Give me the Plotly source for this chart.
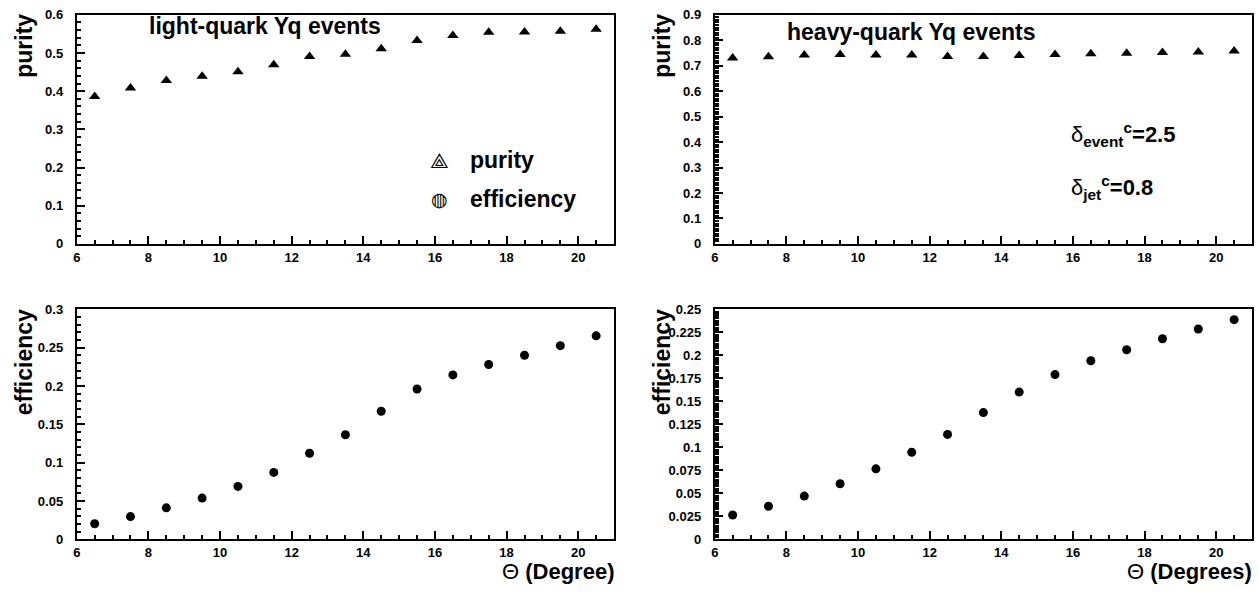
import plotly.graph_objects as go

# ---------------- data ----------------
theta = [6.5, 7.5, 8.5, 9.5, 10.5, 11.5, 12.5, 13.5, 14.5, 15.5, 16.5, 17.5, 18.5, 19.5, 20.5]

purity_light = [0.386, 0.408, 0.428, 0.439, 0.451, 0.469, 0.491, 0.497, 0.511, 0.533,
                0.546, 0.554, 0.555, 0.557, 0.562]
purity_heavy = [0.730, 0.735, 0.742, 0.744, 0.742, 0.742, 0.736, 0.736, 0.740, 0.744,
                0.747, 0.749, 0.752, 0.754, 0.758]
eff_light = [0.0203, 0.0297, 0.0411, 0.0538, 0.069, 0.0873, 0.1123, 0.1364, 0.167, 0.196,
             0.2144, 0.228, 0.240, 0.2525, 0.2653]
eff_heavy = [0.0265, 0.036, 0.047, 0.0604, 0.0766, 0.0946, 0.114, 0.1377, 0.160, 0.179,
             0.194, 0.206, 0.218, 0.2285, 0.2387]

x_ticks = [6, 8, 10, 12, 14, 16, 18, 20]
x_ticktext = ["6", "8", "10", "12", "14", "16", "18", "20"]
y1_ticks = [0, 0.1, 0.2, 0.3, 0.4, 0.5, 0.6]
y1_text = ["0", "0.1", "0.2", "0.3", "0.4", "0.5", "0.6"]
y2_ticks = [0, 0.1, 0.2, 0.3, 0.4, 0.5, 0.6, 0.7, 0.8, 0.9]
y2_text = ["0", "0.1", "0.2", "0.3", "0.4", "0.5", "0.6", "0.7", "0.8", "0.9"]
y3_ticks = [0, 0.05, 0.1, 0.15, 0.2, 0.25, 0.3]
y3_text = ["0", "0.05", "0.1", "0.15", "0.2", "0.25", "0.3"]
y4_ticks = [0, 0.025, 0.05, 0.075, 0.1, 0.125, 0.15, 0.175, 0.2, 0.225, 0.25]
y4_text = ["0", "0.025", "0.05", "0.075", "0.1", "0.125", "0.15", "0.175", "0.2", "0.225", "0.25"]

# ---------------- layout helpers ----------------
W, H = 1259, 600
FONT = "Liberation Sans, Arial, Helvetica, sans-serif"

def px_x(p):
    return p / W

def px_y(p):
    return 1 - p / H

xdom_left = [px_x(73), px_x(612)]
xdom_right = [px_x(713), px_x(1252)]
ydom_top = [px_y(243), px_y(8)]
ydom_bot = [px_y(546), px_y(310)]

fig = go.Figure()

tri = dict(symbol="triangle-up", size=10, color="black")
dot = dict(symbol="circle", size=9, color="black")

fig.add_trace(go.Scatter(x=theta, y=purity_light, mode="markers", marker=tri,
                         xaxis="x", yaxis="y", showlegend=False))
fig.add_trace(go.Scatter(x=theta, y=purity_heavy, mode="markers", marker=tri,
                         xaxis="x2", yaxis="y2", showlegend=False))
fig.add_trace(go.Scatter(x=theta, y=eff_light, mode="markers", marker=dot,
                         xaxis="x3", yaxis="y3", showlegend=False))
fig.add_trace(go.Scatter(x=theta, y=eff_heavy, mode="markers", marker=dot,
                         xaxis="x4", yaxis="y4", showlegend=False))

tickfont = dict(family=FONT, size=13, color="black", weight="bold")

def xaxis(dom, anchor):
    return dict(domain=dom, anchor=anchor, range=[6, 21], showgrid=False, zeroline=False,
                showline=True, linecolor="black", linewidth=2, mirror=True,
                ticks="inside", ticklen=8, tickwidth=2, tickcolor="black",
                tickmode="array", tickvals=x_ticks, ticktext=x_ticktext,
                tickfont=tickfont, ticklabelstandoff=0,
                minor=dict(ticks="inside", dtick=0.5, tick0=6, ticklen=4, tickwidth=1.5,
                           tickcolor="black", showgrid=False))

def yaxis(dom, anchor, top, vals, text, mdt):
    return dict(domain=dom, anchor=anchor, range=[0, top], showgrid=False, zeroline=False,
                showline=True, linecolor="black", linewidth=2, mirror=True,
                ticks="inside", ticklen=8, tickwidth=2, tickcolor="black",
                tickmode="array", tickvals=vals, ticktext=text,
                tickfont=tickfont, ticklabelstandoff=9,
                minor=dict(ticks="inside", dtick=mdt, tick0=0, ticklen=4, tickwidth=1.5,
                           tickcolor="black", showgrid=False))

fig.update_layout(
    width=W, height=H,
    margin=dict(l=0, r=0, t=0, b=0),
    paper_bgcolor="white", plot_bgcolor="white",
    showlegend=False,
    xaxis=xaxis(xdom_left, "y"),
    yaxis=yaxis(ydom_top, "x", 0.6, y1_ticks, y1_text, 0.02),
    xaxis2=xaxis(xdom_right, "y2"),
    yaxis2=yaxis(ydom_top, "x2", 0.9, y2_ticks, y2_text, 0.01),
    xaxis3=xaxis(xdom_left, "y3"),
    yaxis3=yaxis(ydom_bot, "x3", 0.3, y3_ticks, y3_text, 0.01),
    xaxis4=xaxis(xdom_right, "y4"),
    yaxis4=yaxis(ydom_bot, "x4", 0.25, y4_ticks, y4_text, 0.0025),
)

bold = lambda s: dict(family=FONT, size=s, color="black", weight="bold")
normal = lambda s: dict(family=FONT, size=s, color="black")

ann = []
# panel titles
ann.append(dict(text="light-quark Yq events", x=px_x(143), y=px_y(20), xanchor="left",
                yanchor="middle", font=bold(23)))
ann.append(dict(text="heavy-quark Yq events", x=px_x(783), y=px_y(26), xanchor="left",
                yanchor="middle", font=bold(23)))
# y-axis titles (ROOT style, at top end of axis)
ann.append(dict(text="purity", x=px_x(20), y=px_y(5), xanchor="center", yanchor="top",
                textangle=-90, font=bold(23)))
ann.append(dict(text="purity", x=px_x(660), y=px_y(5), xanchor="center", yanchor="top",
                textangle=-90, font=bold(23)))
ann.append(dict(text="efficiency", x=px_x(20), y=px_y(308), xanchor="center", yanchor="top",
                textangle=-90, font=bold(23)))
ann.append(dict(text="efficiency", x=px_x(660), y=px_y(308), xanchor="center", yanchor="top",
                textangle=-90, font=bold(23)))
# x-axis titles
ann.append(dict(text="Θ <b>(Degree)</b>", x=px_x(613), y=px_y(565), xanchor="right",
                yanchor="top", font=normal(22), borderpad=0))
ann.append(dict(text="Θ <b>(Degrees)</b>", x=px_x(1253), y=px_y(565), xanchor="right",
                yanchor="top", font=normal(22), borderpad=0))
# legend
ann.append(dict(text="⟁", x=px_x(437), y=px_y(157), xanchor="center", yanchor="middle",
                font=normal(21)))
ann.append(dict(text="◍", x=px_x(437), y=px_y(197), xanchor="center", yanchor="middle",
                font=normal(19)))
ann.append(dict(text="purity", x=px_x(465), y=px_y(157), xanchor="left", yanchor="middle",
                font=bold(23)))
ann.append(dict(text="efficiency", x=px_x(465), y=px_y(197), xanchor="left", yanchor="middle",
                font=bold(23)))
# cuts
ann.append(dict(text="δ<sub><b>event</b></sub><sup><b>c</b></sup><b>=2.5</b>", x=px_x(1068),
                y=px_y(131), xanchor="left", yanchor="middle", font=normal(22)))
ann.append(dict(text="δ<sub><b>jet</b></sub><sup><b>c</b></sup><b>=0.8</b>", x=px_x(1068),
                y=px_y(185), xanchor="left", yanchor="middle", font=normal(22)))

for a in ann:
    a.update(xref="paper", yref="paper", showarrow=False)
fig.update_layout(annotations=ann)

fig.write_html("out.html")
